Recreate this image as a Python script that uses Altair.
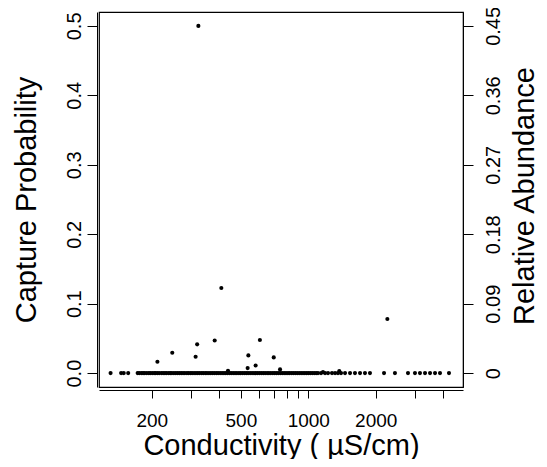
import altair as alt
import pandas as pd

# Sites where the species was not captured (capture probability 0), conductivity in uS/cm
zero_cond = [131, 146, 150, 157, 173, 176, 180, 183, 186, 190, 194, 197, 201, 205,
             208, 212, 216, 221, 225, 229, 233, 238, 242, 246, 251, 256, 261, 266,
             271, 276, 281, 287, 292, 298, 303, 309, 315, 321, 327, 334, 340, 347,
             353, 360, 367, 374, 381, 389, 396, 404, 412, 420, 428, 436, 445, 453,
             462, 471, 480, 490, 499, 509, 519, 529, 539, 550, 561, 572, 583, 594,
             606, 618, 630, 642, 655, 667, 680, 694, 707, 721, 735, 750, 765, 780,
             795, 811, 826, 843, 859, 876, 893, 911, 929, 947, 965, 984, 1003, 1023,
             1043, 1064, 1085, 1105, 1140, 1188, 1225, 1276, 1317, 1357, 1400, 1459,
             1536, 1616, 1702, 1791, 1885, 2178, 2437, 2787, 2994, 3152, 3320, 3496,
             3680, 3873, 4248]

# Sites with a non-zero capture probability
nz_cond = [323, 409, 2254, 608, 382, 319, 247, 540, 314, 701, 212, 582, 536, 748,
           438, 1375, 1163]
nz_prob = [0.5, 0.1225, 0.078, 0.0476, 0.047, 0.0414, 0.0293, 0.0255, 0.0235,
           0.0226, 0.0163, 0.011, 0.0072, 0.0053, 0.0033, 0.003, 0.0014]

x_ticks = [200, 300, 400, 500, 600, 700, 800, 900, 1000, 2000, 3000, 4000, 5000]
x_labels = [200, 500, 1000, 2000]
left_ticks = [0, 0.1, 0.2, 0.3, 0.4, 0.5]
right_ticks = [0, 0.09, 0.18, 0.27, 0.36, 0.45]

df = pd.DataFrame({
    "cond": zero_cond + nz_cond,
    "prob": [0.0] * len(zero_cond) + nz_prob,
})

W, H = 364, 375
FONT = "Liberation Sans"
xscale = alt.Scale(type="log", domain=[116.3, 4906], nice=False)

# axis with all ticks, no labels
x_ticks_axis = alt.X(
    "cond:Q", scale=xscale,
    axis=alt.Axis(orient="bottom", values=x_ticks, labels=False, title=None,
                  offset=3, tickSize=8),
)
# axis with labels only
x_label_axis = alt.X(
    "cond:Q", scale=xscale,
    axis=alt.Axis(
        orient="bottom", values=x_labels, ticks=False, domain=False,
        format="d", offset=3, labelPadding=21, labelFontSize=19,
        labelFlush=False, labelOverlap=False,
        title="Conductivity ( µS/cm)", titleFontSize=29,
        titleBaseline="alphabetic", titleY=64, titleX=W / 2,
    ),
)

points = alt.Chart(df).mark_circle(size=17, color="black", opacity=1).encode(
    x=x_ticks_axis,
    y=alt.Y(
        "prob:Q",
        scale=alt.Scale(domain=[-0.02, 0.52], nice=False, zero=False),
        axis=alt.Axis(
            orient="left", values=left_ticks, format=".1f",
            offset=2, tickSize=10, labelAngle=270, labelAlign="center",
            labelBaseline="bottom", labelPadding=3, labelFontSize=20,
            title="Capture Probability", titleFontSize=29, titleAngle=270,
            titleAlign="center", titleBaseline="alphabetic",
            titleX=-62, titleY=H / 2,
        ),
    ),
)

right = alt.Chart(df).mark_circle(opacity=0).encode(
    x=x_label_axis,
    y=alt.Y(
        "prob:Q",
        scale=alt.Scale(domain=[-0.018, 0.468], nice=False, zero=False),
        axis=alt.Axis(
            orient="right", values=right_ticks,
            labelExpr="datum.value == 0 ? '0' : format(datum.value, '.2f')",
            offset=0, tickSize=10, labelAngle=270, labelAlign="center",
            labelBaseline="top", labelPadding=10, labelFontSize=20,
            title="Relative Abundance", titleFontSize=29, titleAngle=270,
            titleAlign="center", titleBaseline="alphabetic",
            titleX=70, titleY=H / 2 - 4,
        ),
    ),
)

chart = (
    alt.layer(points, right)
    .resolve_scale(y="independent")
    .resolve_axis(x="independent")
    .properties(
        width=W, height=H,
        autosize=alt.AutoSizeParams(type="none"),
        padding={"left": 91, "top": 4, "right": 76, "bottom": 72},
    )
    .configure_view(stroke="black", strokeWidth=1.2)
    .configure_axis(
        grid=False, domainColor="black", tickColor="black",
        labelColor="black", titleColor="black", labelFont=FONT, titleFont=FONT,
        titleFontWeight="normal", domainWidth=1, tickWidth=1,
    )
)

chart.save("out.html", embed_options={"renderer": "svg", "actions": False})
